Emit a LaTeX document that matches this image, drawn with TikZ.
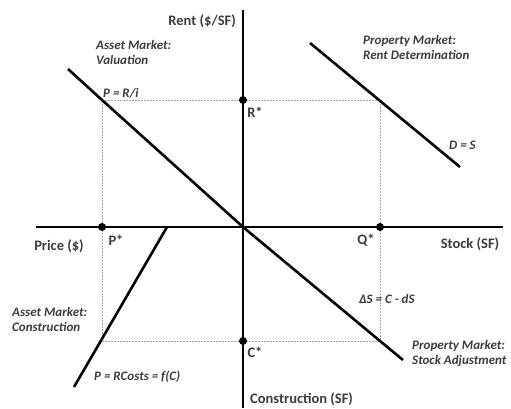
\documentclass[tikz,border=0pt]{standalone}
\usepackage{fontspec}
\setmainfont{Carlito}
\usetikzlibrary{positioning}
\definecolor{labelgray}{RGB}{60, 60, 60}
\definecolor{guidegray}{RGB}{165, 165, 165}

\begin{document}
\begin{tikzpicture}[
    x=1pt, y=-1pt,
    axis/.style={line width=2.6pt},
    curve/.style={line width=2.6pt},
    guide/.style={draw=guidegray, line width=0.7pt, dash pattern=on 2pt off 1pt},
    dot/.style={circle, fill=black, inner sep=0pt, minimum size=8pt},
    axislabel/.style={
      font=\fontsize{14.5}{16}\selectfont\bfseries,
      text=labelgray, inner sep=0pt
    },
    market/.style={
      font=\fontsize{13}{15.5}\selectfont\bfseries\itshape,
      text=labelgray, align=left, inner sep=0pt
    }
  ]
    \useasboundingbox (0,0) rectangle (511,408);

    % quadrant corners and line ends
    \coordinate (top)    at (243,10);
    \coordinate (bottom) at (243,408);
    \coordinate (left)   at (36,227);
    \coordinate (right)  at (503,227);
    \coordinate (origin) at (243,227);
    \coordinate (valA)   at (68,69);
    \coordinate (valP)   at (102,100);
    \coordinate (rentQ)  at (380,100);
    \coordinate (stkQ)   at (380,341);
    \coordinate (conP)   at (102,341);
    \coordinate (stkB)   at (403,360);
    \coordinate (rentA)  at (310,43);
    \coordinate (rentB)  at (460,167);
    \coordinate (conA)   at (167,227);
    \coordinate (conB)   at (74,387);

    % equilibrium rectangle
    \draw[guide] (valP) -- (rentQ) -- (stkQ) -- (conP) -- cycle;

    \draw[axis] (top) -- (bottom);
    \draw[axis] (left) -- (right);

    \draw[curve] (valA) -- (valP) -- (origin);
    \draw[curve] (origin) -- (stkQ) -- (stkB);
    \draw[curve] (rentA) -- (rentB);
    \draw[curve] (conA) -- (conB);

    \node[dot] (rstar) at (243,100) {};
    \node[dot] (pstar) at (102,227) {};
    \node[dot] (qstar) at (380,227) {};
    \node[dot] (cstar) at (243,341) {};

    \node[axislabel] (rstarlbl) at (255,112) {R*};
    \node[axislabel] (pstarlbl) at (116,240) {P*};
    \node[axislabel] (qstarlbl) at (366,240) {Q*};
    \node[axislabel] (cstarlbl) at (255,352) {C*};

    \node[axislabel, anchor=east] (rent)  at (236,21)  {Rent (\$/SF)};
    \node[axislabel] (price)              at (59,246)  {Price (\$)};
    \node[axislabel] (stock)              at (470,244) {Stock (SF)};
    \node[axislabel, anchor=west] (constr) at (250,399) {Construction (SF)};

    \node[market, anchor=north west] (valuation) at (96,40)
      {Asset Market:\\Valuation};
    \node[market, anchor=north west] (rentdet) at (363,35)
      {Property Market:\\Rent Determination};
    \node[market, anchor=north west] (assetcon) at (12,307)
      {Asset Market:\\Construction};
    \node[market, anchor=north west] (stockadj) at (412,340)
      {Property Market:\\Stock Adjustment};

    \node[market, anchor=base west] (priceeq) at (103,97)  {P = R/i};
    \node[market, anchor=base west] (demand)  at (449,149) {D = S};
    \node[market, anchor=base west] (costeq)  at (94,380)  {P = RCosts = f(C)};
    \node[market, anchor=base west] (stockeq) at (359,303) {ΔS = C - dS};
  \end{tikzpicture}
\end{document}
